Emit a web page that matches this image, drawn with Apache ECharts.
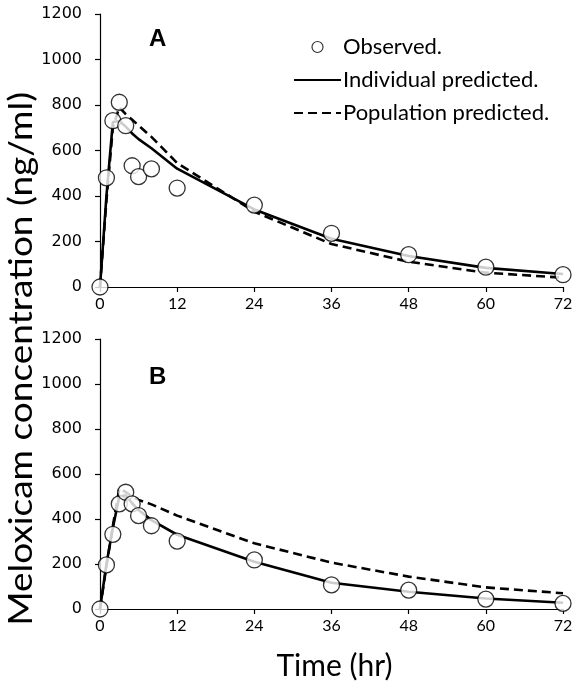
<!DOCTYPE html>
<html>
<head>
<meta charset="utf-8">
<script src="https://cdn.jsdelivr.net/npm/echarts@6/dist/echarts.min.js"></script>
<style>
  html, body { margin: 0; padding: 0; background: #fff; }
  #chart { width: 584px; height: 685px; }
</style>
</head>
<body>
<div id="chart"></div>
<script>
// Sampling times (hr)
const hours = [0, 1, 2, 3, 4, 5, 6, 8, 12, 24, 36, 48, 60, 72];
const xTicks = [0, 12, 24, 36, 48, 60, 72];
const yTicks = [0, 200, 400, 600, 800, 1000, 1200];

// Panel A: meloxicam concentration (ng/ml)
const observedA   = [0, 480, 731, 812, 709, 533, 485, 519, 435, 360, 236, 142, 87, 54];
const individualA = [0, 400, 725, 730, 705, 675, 650, 610, 520, 341, 212, 136, 84, 57];
const populationA = [0, 380, 700, 790, 760, 735, 710, 660, 545, 331, 189, 111, 63, 41];

// Panel B
const observedB   = [0, 196, 332, 467, 519, 467, 415, 370, 302, 218, 107, 84, 44, 25];
const individualB = [0, 200, 360, 500, 505, 470, 440, 395, 330, 210, 117, 77, 47, 28];
const populationB = [0, 190, 370, 535, 520, 500, 485, 465, 415, 292, 206, 144, 96, 70];

const panelNames = ['A', 'B'];
const seriesNames = ['Observed.', 'Individual predicted.', 'Population predicted.'];

const pairs = (ys) => hours.map((h, i) => [h, ys[i]]);

const TEXT_FONT = 'Lato, "Open Sans", sans-serif';

function xAxisFor(idx, withName) {
  return {
    type: 'value', gridIndex: idx,
    min: xTicks[0], max: xTicks[xTicks.length - 1], interval: 12,
    axisLine: { show: true, lineStyle: { color: '#000', width: 1.2 } },
    axisTick: { show: true, length: 5, inside: false, lineStyle: { color: '#000', width: 1.2 } },
    axisLabel: { color: '#000', fontFamily: TEXT_FONT, fontSize: 16, margin: 9 },
    splitLine: { show: false },
    name: withName ? 'Time (hr)' : '',
    nameLocation: 'middle', nameGap: 42,
    nameTextStyle: { color: '#000', fontFamily: TEXT_FONT, fontSize: 30, padding: [0, 0, 0, 6] }
  };
}

function yAxisFor(idx) {
  return {
    type: 'value', gridIndex: idx,
    min: yTicks[0], max: yTicks[yTicks.length - 1], interval: 200,
    axisLine: { show: true, lineStyle: { color: '#000', width: 1.2 } },
    axisTick: { show: true, length: 5, inside: false, lineStyle: { color: '#000', width: 1.2 } },
    axisLabel: { color: '#000', fontFamily: '"DejaVu Sans", Verdana, sans-serif', fontSize: 16, margin: 18,
                 formatter: (v) => String(v) },
    splitLine: { show: false }
  };
}

function panelSeries(idx, obs, ind, pop) {
  return [
    {
      name: seriesNames[1], type: 'line', xAxisIndex: idx, yAxisIndex: idx,
      data: pairs(ind), symbol: 'none', z: 2,
      itemStyle: { color: '#000' },
      lineStyle: { color: '#000', width: 2.6, type: 'solid' }
    },
    {
      name: seriesNames[2], type: 'line', xAxisIndex: idx, yAxisIndex: idx,
      data: pairs(pop), symbol: 'none', z: 2,
      itemStyle: { color: '#000' },
      lineStyle: { color: '#000', width: 2.6, type: [9, 5] }
    },
    {
      name: seriesNames[0], type: 'scatter', xAxisIndex: idx, yAxisIndex: idx,
      data: pairs(obs), symbol: 'circle', symbolSize: 16, z: 5,
      itemStyle: { color: '#fff', borderColor: '#000', borderWidth: 1.3 }
    }
  ];
}

const chart = echarts.init(document.getElementById('chart'), null, { renderer: 'canvas' });

chart.setOption({
  backgroundColor: '#fff',
  animation: false,
  grid: [
    { left: 100, top: 14, width: 463, height: 273 },
    { left: 100, top: 339, width: 463, height: 270 }
  ],
  xAxis: [xAxisFor(0, false), xAxisFor(1, true)],
  yAxis: [yAxisFor(0), yAxisFor(1)],
  title: [
    { text: panelNames[0], left: 144, top: 22,
      textStyle: { fontFamily: '"Liberation Sans", Arial, sans-serif', fontWeight: 'bold', fontSize: 24, color: '#000' } },
    { text: panelNames[1], left: 144, top: 360,
      textStyle: { fontFamily: '"Liberation Sans", Arial, sans-serif', fontWeight: 'bold', fontSize: 24, color: '#000' } }
  ],
  legend: {
    orient: 'vertical', left: 288, top: 31, itemGap: 11,
    itemWidth: 47, itemHeight: 11, symbolKeepAspect: true,
    textStyle: { fontFamily: TEXT_FONT, fontSize: 22, color: '#000', padding: [0, 0, 0, -3] },
    data: [
      { name: seriesNames[0], icon: 'circle', itemStyle: { color: '#fff', borderColor: '#000', borderWidth: 1.2 } },
      { name: seriesNames[1], itemStyle: { opacity: 0 } },
      { name: seriesNames[2], itemStyle: { opacity: 0 } }
    ]
  },
  graphic: [
    {
      type: 'text', left: 5, top: 92, rotation: Math.PI / 2, scaleX: 1.12,
      style: {
        text: 'Meloxicam concentration (ng/ml)',
        font: '33px ' + TEXT_FONT, fill: '#000'
      }
    }
  ],
  series: [
    ...panelSeries(0, observedA, individualA, populationA),
    ...panelSeries(1, observedB, individualB, populationB)
  ]
});
</script>
</body>
</html>
